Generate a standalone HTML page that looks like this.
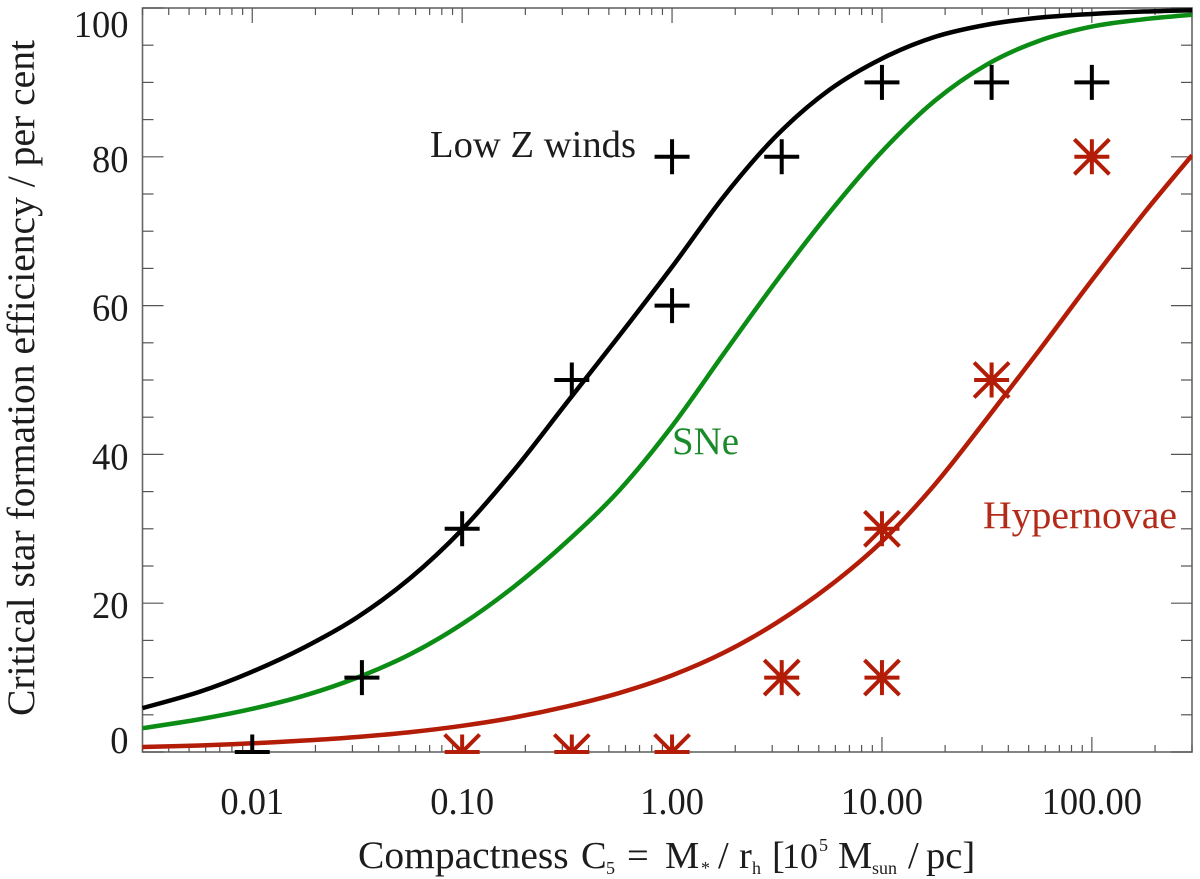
<!DOCTYPE html>
<html lang="en">
<head>
<meta charset="utf-8">
<title>Critical star formation efficiency vs compactness</title>
<style>
html,body{margin:0;padding:0;background:#fff;}
svg{display:block;font-family:"Liberation Serif",serif;}
text{fill:#1c1c1c;}
</style>
</head>
<body>
<svg id="chart" width="1200" height="879" viewBox="0 0 1200 879" xmlns="http://www.w3.org/2000/svg">
  <defs>
    <clipPath id="plot-clip"><rect x="142" y="0" width="1050.5" height="754"></rect></clipPath>
  </defs>
  <g id="axes"></g>
  <g id="curves" clip-path="url(#plot-clip)"></g>
  <g id="markers" clip-path="url(#plot-clip)"></g>
  <g id="tick-labels"></g>
  <text x="430" y="157" font-size="38.5" textLength="206" lengthAdjust="spacingAndGlyphs">Low Z winds</text>
  <text x="672" y="454" font-size="39" textLength="67" lengthAdjust="spacingAndGlyphs" style="fill:#1a8a2a">SNe</text>
  <text x="983" y="528" font-size="39.5" textLength="194" lengthAdjust="spacingAndGlyphs" style="fill:#b32a18">Hypernovae</text>
  <text transform="translate(34,716) rotate(-90)" font-size="39.5" textLength="676" lengthAdjust="spacingAndGlyphs">Critical star formation efficiency / per cent</text>
  <text y="868" font-size="38.5"><tspan x="358" font-size="39.5">Compactness</tspan><tspan x="581">C</tspan><tspan x="606" y="874" font-size="18">5</tspan><tspan x="627" y="868">=</tspan><tspan x="665">M</tspan><tspan x="701" y="874" font-size="18">*</tspan><tspan x="718" y="868">/</tspan><tspan x="739">r</tspan><tspan x="752" y="874" font-size="18">h</tspan><tspan x="772" y="868">[</tspan><tspan x="782" font-size="36">10</tspan><tspan x="819" y="851" font-size="18">5</tspan><tspan x="838" y="868">M</tspan><tspan x="872" y="874" font-size="18">sun</tspan><tspan x="908" y="868">/</tspan><tspan x="926">pc]</tspan></text>
</svg>
<script>
// Chart data
var xTickValues = [0.01, 0.1, 1, 10, 100];
var xTickLabels = ['0.01', '0.10', '1.00', '10.00', '100.00'];
var yTickValues = [0, 20, 40, 60, 80, 100];
var curveCompactness = [0.003, 0.00562, 0.01, 0.0178, 0.0316, 0.0562, 0.1, 0.178, 0.316, 0.562, 1, 1.78, 3.16, 5.62, 10, 17.8, 31.6, 56.2, 100, 178, 300];
var lowZCurve = [5.9, 8.1, 10.8, 14.1, 18.1, 23.3, 29.9, 38.0, 47.0, 56.0, 65.2, 74.8, 82.9, 89.0, 93.2, 96.1, 97.75, 98.7, 99.2, 99.53, 99.7];
var sneCurve = [3.2, 4.4, 5.8, 7.6, 10.0, 13.1, 17.2, 22.3, 28.3, 35.2, 43.8, 53.7, 63.4, 72.5, 80.7, 87.5, 92.4, 95.6, 97.5, 98.5, 99.1];
var hyperCurve = [0.67, 0.88, 1.17, 1.54, 2.02, 2.66, 3.52, 4.65, 6.12, 7.94, 10.3, 13.4, 17.4, 22.3, 28.3, 35.9, 44.8, 54.0, 63.4, 72.5, 80.2];
var plusCompactness = [0.01, 0.0333, 0.1, 0.333, 1, 1, 3.33, 10, 33.3, 100];
var plusEfficiency = [0, 10, 30, 50, 60, 80, 80, 90, 90, 90];
var starCompactness = [0.1, 0.333, 1, 3.33, 10, 10, 33.3, 100];
var starEfficiency = [0, 0, 0, 10, 10, 30, 50, 80];

var NS = 'http://www.w3.org/2000/svg';
var plot = {left: 142.5, right: 1192, top: 8, bottom: 752};
var xMin = 0.003, xMax = 300, yMin = 0, yMax = 100;
function xScale(c) {
  return plot.left + (Math.log10(c) - Math.log10(xMin)) / (Math.log10(xMax) - Math.log10(xMin)) * (plot.right - plot.left);
}
function yScale(v) {
  return plot.bottom - (v - yMin) / (yMax - yMin) * (plot.bottom - plot.top);
}
function make(tag, attrs, parent) {
  var el = document.createElementNS(NS, tag);
  for (var k in attrs) el.setAttribute(k, attrs[k]);
  parent.appendChild(el);
  return el;
}
var axes = document.getElementById('axes');
var curves = document.getElementById('curves');
var markers = document.getElementById('markers');
var labels = document.getElementById('tick-labels');

var frame = make('rect', {x: plot.left, y: plot.top, width: plot.right - plot.left, height: plot.bottom - plot.top, fill: 'none', stroke: '#666', 'stroke-width': 1.6}, axes);



function tickLine(x1, y1, x2, y2) {
  var t = make('line', {x1: x1, y1: y1, x2: x2, y2: y2, stroke: '#555', 'stroke-width': 1.2}, axes);
  
  
}
// y ticks: a major tick each 20, minor each 5, on left and right axes
for (var v = yMin; v <= yMax; v += 5) {
  var major = v % 20 === 0;
  var len = major ? 21 : 11;
  tickLine(plot.left, yScale(v), plot.left + len, yScale(v));
  tickLine(plot.right, yScale(v), plot.right - len, yScale(v));
}
// x ticks: log decades, top and bottom axes
for (var e = -3; e <= 2; e++) {
  for (var m = 1; m <= 9; m++) {
    var c = m * Math.pow(10, e);
    if (c < xMin * 0.999 || c > xMax * 1.001) continue;
    var l = m === 1 ? 15 : 7;
    tickLine(xScale(c), plot.top, xScale(c), plot.top + l);
    tickLine(xScale(c), plot.bottom, xScale(c), plot.bottom - l);
  }
}
// tick labels: same glyph height as the reference, slightly narrower set width
function narrow(t) {
  t.setAttribute('lengthAdjust', 'spacingAndGlyphs');
  t.setAttribute('textLength', (t.getComputedTextLength() * 0.96).toFixed(2));
}
xTickValues.forEach(function (val, i) {
  var t = make('text', {x: xScale(val), y: 814, 'font-size': 38, 'text-anchor': 'middle'}, labels);
  
  
  t.textContent = xTickLabels[i];
  narrow(t);
});
yTickValues.forEach(function (val) {
  var off = val === yMin ? 1 : (val === yMax ? 29 : 15);
  var t = make('text', {x: 128.5, y: yScale(val) + off, 'font-size': 38, 'text-anchor': 'end'}, labels);
  
  
  t.textContent = String(val);
  narrow(t);
});

// smooth path through the series values
function curvePath(xs, ys) {
  var p = xs.map(function (c, i) { return [xScale(c), yScale(ys[i])]; });
  var d = 'M' + p[0][0].toFixed(2) + ' ' + p[0][1].toFixed(2);
  for (var i = 0; i < p.length - 1; i++) {
    var a = p[Math.max(i - 1, 0)], b = p[i], q = p[i + 1], r = p[Math.min(i + 2, p.length - 1)];
    d += 'C' + (b[0] + (q[0] - a[0]) / 6).toFixed(2) + ' ' + (b[1] + (q[1] - a[1]) / 6).toFixed(2) + ' ' +
      (q[0] - (r[0] - b[0]) / 6).toFixed(2) + ' ' + (q[1] - (r[1] - b[1]) / 6).toFixed(2) + ' ' +
      q[0].toFixed(2) + ' ' + q[1].toFixed(2);
  }
  return d;
}
var curveStyle = {fill: 'none', 'stroke-width': 4.5, 'stroke-linejoin': 'round'};
function drawCurve(ys, color) {
  var a = {d: curvePath(curveCompactness, ys), stroke: color};
  for (var k in curveStyle) a[k] = curveStyle[k];
  return make('path', a, curves);
}
var cHyper = drawCurve(hyperCurve, '#b31c06');


var cSne = drawCurve(sneCurve, '#0b8c14');


var cLow = drawCurve(lowZCurve, '#000');



// markers
var R = 17.5;
function plusMark(c, v) {
  var x = xScale(c), y = yScale(v);
  var d = 'M' + (x - R) + ' ' + y + 'H' + (x + R) + 'M' + x + ' ' + (y - R) + 'V' + (y + R);
  return make('path', {d: d, stroke: '#000', 'stroke-width': 4, fill: 'none'}, markers);
}
function starMark(c, v) {
  var x = xScale(c), y = yScale(v);
  var d = 'M' + (x - R) + ' ' + y + 'H' + (x + R) + 'M' + x + ' ' + (y - R) + 'V' + (y + R) +
    'M' + (x - R) + ' ' + (y - R) + 'L' + (x + R) + ' ' + (y + R) + 'M' + (x - R) + ' ' + (y + R) + 'L' + (x + R) + ' ' + (y - R);
  return make('path', {d: d, stroke: '#b31c06', 'stroke-width': 4, fill: 'none'}, markers);
}
plusCompactness.forEach(function (c, i) {
  var mk = plusMark(c, plusEfficiency[i]);
  
  
});
starCompactness.forEach(function (c, i) {
  var mk = starMark(c, starEfficiency[i]);
  
  
});
</script>
</body>
</html>
